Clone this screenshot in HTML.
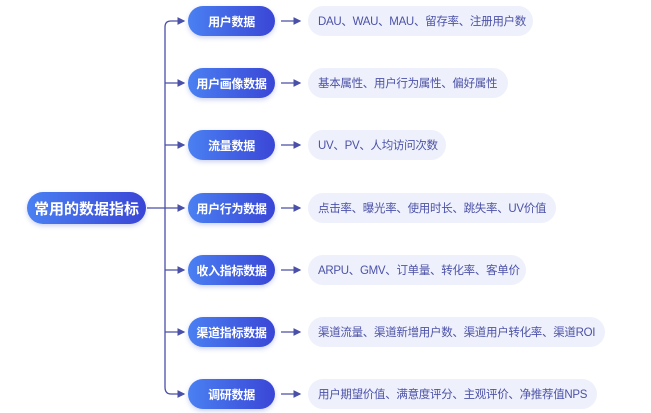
<!DOCTYPE html>
<html><head><meta charset="utf-8"><style>
body{margin:0;width:651px;height:413px;background:#fff;position:relative;overflow:hidden;font-family:"Liberation Sans","Noto Sans CJK SC",sans-serif}
.p{position:absolute;border-radius:16px;background:linear-gradient(90deg,#4a80f2,#3a46d6);color:#fff;font-weight:bold;display:flex;align-items:center;justify-content:center;box-shadow:0 2px 5px rgba(60,80,200,.25);white-space:nowrap}
.b{left:188px;width:87px;height:30px;font-size:12px;letter-spacing:-0.3px}
.l{position:absolute;left:308px;height:30px;border-radius:15px;background:#eef0fb;color:#4c52a8;font-size:11.5px;display:flex;align-items:center;padding-left:10px;box-sizing:border-box;white-space:nowrap;letter-spacing:-0.3px}
</style></head><body>
<svg width="651" height="413" style="position:absolute;left:0;top:0">
<defs><marker id="a" markerWidth="6" markerHeight="6" refX="5" refY="3" orient="auto"><path d="M0,0L6,3L0,6z" fill="#4a4fa8"/></marker></defs>
<g stroke="#4a4fa8" stroke-width="1.3" fill="none">
<line x1="147" y1="208" x2="184" y2="208" marker-end="url(#a)"/>
<path d="M165,208V27Q165,21 171,21H184" marker-end="url(#a)"/>
<path d="M165,208V387Q165,394 171,394H184" marker-end="url(#a)"/>
<path d="M165,83H184" marker-end="url(#a)"/>
<path d="M165,145H184" marker-end="url(#a)"/>
<path d="M165,270H184" marker-end="url(#a)"/>
<path d="M165,332H184" marker-end="url(#a)"/>
<path d="M281,21H300" marker-end="url(#a)"/>
<path d="M281,83H300" marker-end="url(#a)"/>
<path d="M281,145H300" marker-end="url(#a)"/>
<path d="M281,208H300" marker-end="url(#a)"/>
<path d="M281,270H300" marker-end="url(#a)"/>
<path d="M281,332H300" marker-end="url(#a)"/>
<path d="M281,394H300" marker-end="url(#a)"/>
</g></svg>
<div class="p" style="left:27px;top:192px;width:119px;height:32px;font-size:15px">常用的数据指标</div>
<div class="p b" style="top:6px">用户数据</div>
<div class="p b" style="top:68px">用户画像数据</div>
<div class="p b" style="top:130px">流量数据</div>
<div class="p b" style="top:193px">用户行为数据</div>
<div class="p b" style="top:255px">收入指标数据</div>
<div class="p b" style="top:317px">渠道指标数据</div>
<div class="p b" style="top:379px">调研数据</div>
<div class="l" style="top:6px;width:225px">DAU、WAU、MAU、留存率、注册用户数</div>
<div class="l" style="top:68px;width:200px">基本属性、用户行为属性、偏好属性</div>
<div class="l" style="top:130px;width:138px">UV、PV、人均访问次数</div>
<div class="l" style="top:193px;width:248px">点击率、曝光率、使用时长、跳失率、UV价值</div>
<div class="l" style="top:255px;width:218px">ARPU、GMV、订单量、转化率、客单价</div>
<div class="l" style="top:317px;width:297px">渠道流量、渠道新增用户数、渠道用户转化率、渠道ROI</div>
<div class="l" style="top:379px;width:289px">用户期望价值、满意度评分、主观评价、净推荐值NPS</div>
</body></html>
